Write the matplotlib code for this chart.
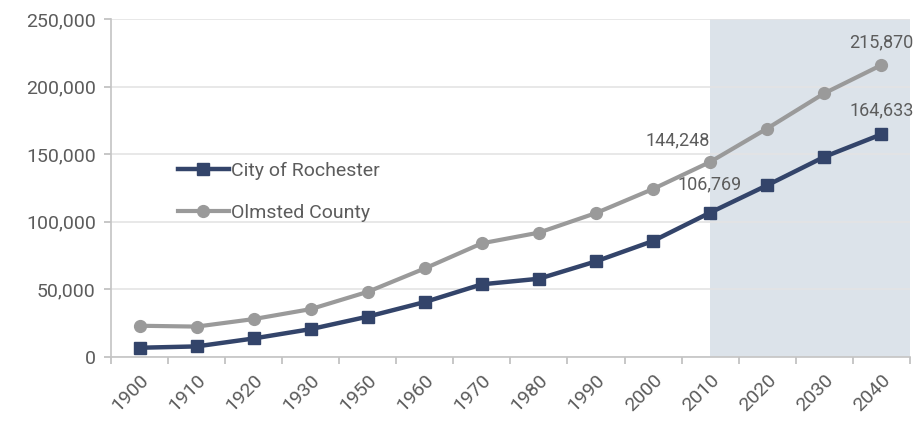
import matplotlib
matplotlib.use('Agg')
import matplotlib.pyplot as plt
import numpy as np

plt.rcParams['font.family'] = ['Roboto', 'DejaVu Sans']

# Datos
years = ['1900', '1910', '1920', '1930', '1950', '1960', '1970', '1980',
         '1990', '2000', '2010', '2020', '2030', '2040']
rochester = [6843, 7844, 13722, 20621, 29885, 40663, 53766, 57890,
             70745, 85806, 106769, 127000, 148000, 164633]
olmsted = [23119, 22497, 28062, 35426, 48228, 65532, 84104, 92006,
           106470, 124277, 144248, 169000, 195000, 215870]
yticks = [0, 50000, 100000, 150000, 200000, 250000]

c_roch = '#33446a'
c_olm = '#9a9a9a'
c_text = '#5c5c5c'

fig = plt.figure(figsize=(9.18, 4.22), dpi=100)
ax = fig.add_axes([0.121, 0.154, 0.870, 0.801])

x = np.arange(len(years))

# zona de proyeccion
ax.axvspan(10, len(years) - 0.5, color='#dce3ea', zorder=0, lw=0)

ax.plot(x, rochester, color=c_roch, lw=3.2, marker='s', markersize=9,
        label='City of Rochester', zorder=3)
ax.plot(x, olmsted, color=c_olm, lw=3, marker='o', markersize=8.5,
        label='Olmsted County', zorder=2)

# etiquetas de valores
lab_kw = dict(fontsize=13, color=c_text, zorder=4)
ax.annotate(f'{olmsted[10]:,}', (x[10], olmsted[10]), xytext=(-23, 9),
            textcoords='offset points', ha='center', va='bottom', **lab_kw)
ax.annotate(f'{rochester[10]:,}', (x[10], rochester[10]), xytext=(0, 14),
            textcoords='offset points', ha='center', va='bottom', **lab_kw)
ax.annotate(f'{olmsted[13]:,}', (x[13], olmsted[13]), xytext=(0, 10),
            textcoords='offset points', ha='center', va='bottom', **lab_kw)
ax.annotate(f'{rochester[13]:,}', (x[13], rochester[13]), xytext=(0, 11),
            textcoords='offset points', ha='center', va='bottom', **lab_kw)

ax.set_xlim(-0.5, len(years) - 0.5)
ax.set_ylim(0, 250000)
ax.set_yticks(yticks)
ax.set_yticklabels([f'{v:,}' for v in yticks])
ax.set_xticks(x)
ax.set_xticklabels(years, rotation=45, ha='right', rotation_mode='anchor')
ax.set_xticks(np.arange(-0.5, len(years)), minor=True)
ax.tick_params(axis='x', which='major', length=0, pad=10, labelsize=14,
               labelcolor=c_text)
ax.tick_params(axis='x', which='minor', length=5, color='#bdbdbd', width=1.2)
ax.tick_params(axis='y', length=5, color='#bdbdbd', width=1.2, labelsize=14,
               labelcolor=c_text, pad=6)

ax.grid(axis='y', color='#e4e4e4', lw=1.2, zorder=1)
ax.set_axisbelow(True)
for s in ['top', 'right']:
    ax.spines[s].set_visible(False)
for s in ['left', 'bottom']:
    ax.spines[s].set_color('#c4c4c4')
    ax.spines[s].set_linewidth(1.2)

leg = ax.legend(loc='upper left', bbox_to_anchor=(0.062, 0.63), frameon=False,
                fontsize=14, handlelength=2.6, handletextpad=0.1,
                labelspacing=1.25)
for t in leg.get_texts():
    t.set_color(c_text)

plt.savefig('out.png', dpi=100)
